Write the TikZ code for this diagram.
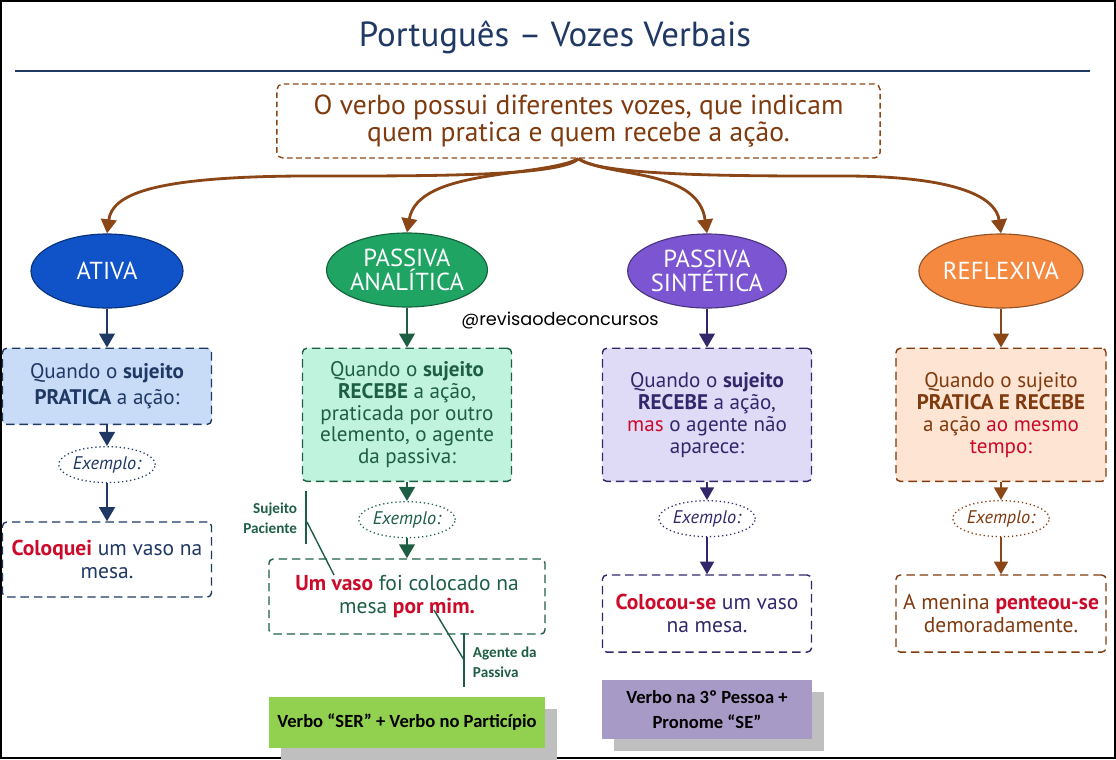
\documentclass[tikz,border=0pt]{standalone}
\usepackage{fontspec}
\setmainfont{PT Sans}
\newfontfamily\rotulofont{Carlito}
\newfontfamily\marcafont{Poppins}
\usepackage{xcolor}
\usetikzlibrary{arrows.meta,positioning,shapes.geometric,shadows}

\definecolor{marinho}{HTML}{1F3864}
\definecolor{marrom}{HTML}{8A4616}
\definecolor{marromtxt}{HTML}{7F3A0E}
\definecolor{vermelho}{HTML}{CC0A2A}
\definecolor{azulativa}{HTML}{1053C8}
\definecolor{azulclaro}{HTML}{C8DCF7}
\definecolor{verdeanal}{HTML}{1FA463}
\definecolor{verdeclaro}{HTML}{BFF3DD}
\definecolor{verdeesc}{HTML}{1D5E45}
\definecolor{roxosint}{HTML}{7C56D2}
\definecolor{roxoclaro}{HTML}{DFDBF6}
\definecolor{roxoesc}{HTML}{33276B}
\definecolor{laranjarefl}{HTML}{F5893F}
\definecolor{pessego}{HTML}{FDE4D3}
\definecolor{verdelima}{HTML}{92D050}
\definecolor{roxolabel}{HTML}{A79AC6}
\definecolor{sombra}{HTML}{BFBFBF}

\newcommand\destaque[1]{\textcolor{vermelho}{\bfseries #1}}

\begin{document}
\begin{tikzpicture}[x=0.025cm,y=-0.025cm,node distance=0.975cm,
  every node/.style={font=\fontsize{15}{15.4}\selectfont},
  voz/.style={ellipse,draw=#1!60!black,line width=0.8pt,fill=#1,minimum width=3.8cm,minimum height=1.85cm,inner sep=0pt,text=white,align=center,font=\fontsize{17.5}{17.5}\selectfont},
  caixa/.style={draw=#1,line width=1pt,dash pattern=on 6pt off 3.5pt,rounded corners=3pt,minimum width=5.225cm,align=center,text=#1,inner sep=2pt},
  exemplo/.style={ellipse,draw=#1,dotted,line width=0.9pt,fill=white,minimum width=2.375cm,minimum height=0.9cm,inner sep=0pt,text=#1,font=\itshape\fontsize{13}{15}\selectfont},
  seta/.style={draw=#1,-{Triangle[length=10pt,width=11pt]},line width=2pt},
  setafina/.style={draw=#1,-{Triangle[length=9pt,width=10pt]},line width=1pt},
  regra/.style={fill=#1,minimum height=1.275cm,align=center,font=\rotulofont\bfseries\fontsize{13.2}{17.6}\selectfont,
    drop shadow={shadow xshift=0.3cm,shadow yshift=-0.3cm,opacity=1,fill=sombra}},
  nota/.style={text=verdeesc,font=\rotulofont\bfseries\fontsize{10.8}{14}\selectfont}]
\useasboundingbox (0,0) rectangle (1116,759);
\draw[line width=1.4pt] (1,1) rectangle (1115,758);

% titulo
\node[text=marinho,font=\fontsize{24.8}{28}\selectfont] (titulo) at (555,37) {Português – Vozes Verbais};
\draw[marinho,line width=1.5pt] (15,71) -- (1090,71);

\node[draw=marrom,dash pattern=on 4pt off 2.5pt,line width=1pt,rounded corners=4pt,minimum width=15.075cm,minimum height=1.85cm,
  text=marromtxt,align=center,font=\fontsize{19.6}{19.8}\selectfont] (intro) at (578.5,121)
  {O verbo possui diferentes vozes, que indicam\\quem pratica e quem recebe a ação.};

% as quatro vozes
\node[voz=azulativa] (ativa) at (107,271) {ATIVA};
\node[voz=verdeanal] (analitica) at (407,270) {PASSIVA\\ANALÍTICA};
\node[voz=roxosint] (sintetica) at (707,271) {PASSIVA\\SINTÉTICA};
\node[voz=laranjarefl] (reflexiva) at (1001,271) {REFLEXIVA};

\draw[seta=marrom] (intro.south) .. controls (560,177) and (420,176) .. (300,176) .. controls (150,177) and (112,195) .. (ativa.north);
\draw[seta=marrom] (intro.south) .. controls (540,178) and (418,168) .. (analitica.north);
\draw[seta=marrom] (intro.south) .. controls (610,178) and (698,168) .. (sintetica.north);
\draw[seta=marrom] (intro.south) .. controls (600,177) and (760,176) .. (850,176) .. controls (960,177) and (996,198) .. (reflexiva.north);

\node[font=\marcafont\fontsize{12.6}{14}\selectfont] (marca) at (560,321) {@revisaodeconcursos};

% ativa
\node[caixa=marinho,fill=azulclaro,minimum height=1.9cm,below=0.975cm of ativa,font=\fontsize{15}{18.4}\selectfont] (defativa)
  {Quando o \textbf{sujeito}\\\textbf{PRATICA} a ação:};
\node[exemplo=marinho,below=0.525cm of defativa] (exativa) {Exemplo:};
\node[caixa=marinho,minimum height=1.875cm,below=0.95cm of exativa,font=\fontsize{15.3}{16.3}\selectfont] (frativa)
  {\destaque{Coloquei} um vaso na\\mesa.};
\draw[seta=marinho] (ativa) -- (defativa);
\draw[seta=marinho] (defativa) -- (exativa);
\draw[seta=marinho] (exativa) -- (frativa);

% passiva analitica
\node[caixa=verdeesc,fill=verdeclaro,minimum height=3.325cm,below=1.0cm of analitica] (defanal)
  {Quando o \textbf{sujeito}\\\textbf{RECEBE} a ação,\\praticada por outro\\elemento, o agente\\da passiva:};
\node[exemplo=verdeesc,below=0.475cm of defanal] (exanal) {Exemplo:};
\node[caixa=verdeesc,minimum width=6.9cm,minimum height=1.875cm,below=0.5cm of exanal,font=\fontsize{15.3}{16.3}\selectfont] (franal)
  {\destaque{Um vaso} foi colocado na\\mesa \destaque{por mim.}};
\node[regra=verdelima,minimum width=6.9cm,below=1.55cm of franal] (regranal) {Verbo “SER” + Verbo no Particípio};
\draw[seta=verdeesc] (analitica) -- (defanal);
\draw[seta=verdeesc] (defanal) -- (exanal);
\draw[seta=verdeesc] (exanal) -- (franal);

\node[nota,anchor=east,align=right] (sujeito) at (302,518) {Sujeito\\Paciente};
\coordinate (sjtopo) at (306,491);
\coordinate (sjbase) at (306,544);
\coordinate (sjmeio) at (307,522);
\coordinate (sjvaso) at (334,575);
\draw[verdeesc,line width=1pt] (sjtopo) -- (sjbase);
\draw[verdeesc,line width=1pt] (sjmeio) -- (sjvaso);

\node[nota,anchor=west,align=left] (agente) at (468,662) {Agente da\\Passiva};
\coordinate (agtopo) at (464,633);
\coordinate (agbase) at (464,687);
\coordinate (agmim) at (434,610);
\coordinate (agmeio) at (464,660);
\draw[verdeesc,line width=1pt] (agtopo) -- (agbase);
\draw[verdeesc,line width=1pt] (agmim) -- (agmeio);

% passiva sintetica
\node[caixa=roxoesc,fill=roxoclaro,minimum height=3.325cm,below=0.975cm of sintetica,font=\fontsize{15}{15.6}\selectfont] (defsint)
  {Quando o \textbf{sujeito}\\\textbf{RECEBE} a ação,\\\textcolor{vermelho}{mas} o agente não\\aparece:};
\node[exemplo=roxoesc,below=0.45cm of defsint] (exsint) {Exemplo:};
\node[caixa=roxoesc,minimum height=1.925cm,below=0.925cm of exsint,font=\fontsize{15.3}{16.3}\selectfont] (frsint)
  {\destaque{Colocou-se} um vaso\\na mesa.};
\node[regra=roxolabel,minimum width=5.225cm,minimum height=1.475cm,below=0.675cm of frsint] (regrsint) {Verbo na 3º Pessoa +\\Pronome “SE”};
\draw[seta=roxoesc] (sintetica) -- (defsint);
\draw[setafina=roxoesc] (defsint) -- (exsint);
\draw[setafina=roxoesc] (exsint) -- (frsint);

% reflexiva
\node[caixa=marromtxt,fill=pessego,minimum width=5.25cm,minimum height=3.325cm,below=0.975cm of reflexiva,font=\fontsize{15}{15.6}\selectfont] (defrefl)
  {Quando o sujeito\\\textbf{PRATICA E RECEBE}\\a ação \textcolor{vermelho}{ao mesmo}\\\textcolor{vermelho}{tempo:}};
\node[exemplo=marromtxt,below=0.45cm of defrefl] (exrefl) {Exemplo:};
\node[caixa=marromtxt,minimum width=5.25cm,minimum height=1.925cm,below=0.925cm of exrefl,font=\fontsize{15.3}{16.3}\selectfont] (frrefl)
  {A menina \destaque{penteou-se}\\demoradamente.};
\draw[seta=marrom] (reflexiva) -- (defrefl);
\draw[setafina=marrom] (defrefl) -- (exrefl);
\draw[setafina=marrom] (exrefl) -- (frrefl);
\end{tikzpicture}
\end{document}
